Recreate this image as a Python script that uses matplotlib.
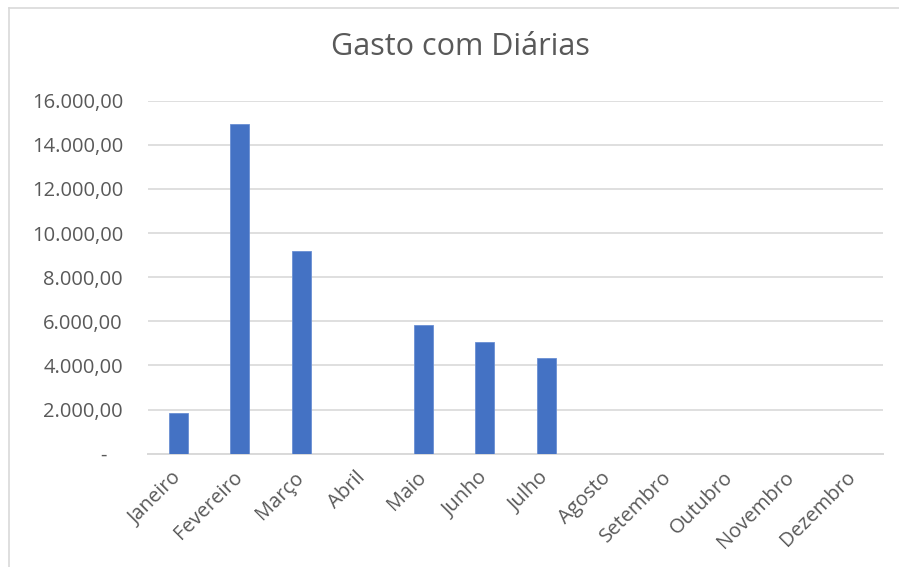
import matplotlib
matplotlib.use("Agg")
import matplotlib.pyplot as plt
from matplotlib.lines import Line2D
from matplotlib.transforms import ScaledTranslation

months = ["Janeiro", "Fevereiro", "Março", "Abril", "Maio", "Junho", "Julho",
          "Agosto", "Setembro", "Outubro", "Novembro", "Dezembro"]
values = [1830, 14950, 9190, 0, 5840, 5050, 4330, 0, 0, 0, 0, 0]
yticks = [0, 2000, 4000, 6000, 8000, 10000, 12000, 14000, 16000]
ytick_labels = ["-   ", "2.000,00", "4.000,00", "6.000,00", "8.000,00",
                "10.000,00", "12.000,00", "14.000,00", "16.000,00"]
title = "Gasto com Diárias"

plt.rcParams['font.family'] = ['Open Sans', 'DejaVu Sans']
txt = "#595959"

fig = plt.figure(figsize=(8.99, 5.67), dpi=100)
ax = fig.add_axes([148/899, 1 - 453.7/567, (883-148)/899, (453.7-100.7)/567])

x = list(range(len(months)))
ax.bar(x, values, width=0.313, color="#4472C4", edgecolor="#6A8FD3", linewidth=0.6, zorder=3)
ax.set_xlim(-0.5, len(months) - 0.5)
ax.set_ylim(0, 16000)
ax.set_yticks(yticks)
ax.set_yticklabels(ytick_labels)
ax.set_xticks(x)
ax.set_xticklabels(months, rotation=45, ha="right", va="top")
ax.tick_params(axis="both", length=0, labelsize=14.5, labelcolor=txt)
ax.tick_params(axis="x", pad=10)
ax.tick_params(axis="y", pad=18)
off = ScaledTranslation(7/100, 0, fig.dpi_scale_trans)
for lbl in ax.get_xticklabels():
    lbl.set_transform(lbl.get_transform() + off)
ax.grid(axis="y", color="#D9D9D9", linewidth=1.2, zorder=0)
for s in ["top", "right", "left"]:
    ax.spines[s].set_visible(False)
ax.spines["bottom"].set_color("#D9D9D9")
ax.spines["bottom"].set_linewidth(1.4)

fig.text(460/899, 1 - 47/567, title, ha="center", va="center", fontsize=22, color=txt)

fig.add_artist(Line2D([8.5/899, 8.5/899], [0, 1 - 8/567], transform=fig.transFigure, color="#D9D9D9", linewidth=1.2))
fig.add_artist(Line2D([8.5/899, 1], [1 - 8/567, 1 - 8/567], transform=fig.transFigure, color="#D9D9D9", linewidth=1.2))

fig.savefig("out.png", dpi=100, facecolor="white")
